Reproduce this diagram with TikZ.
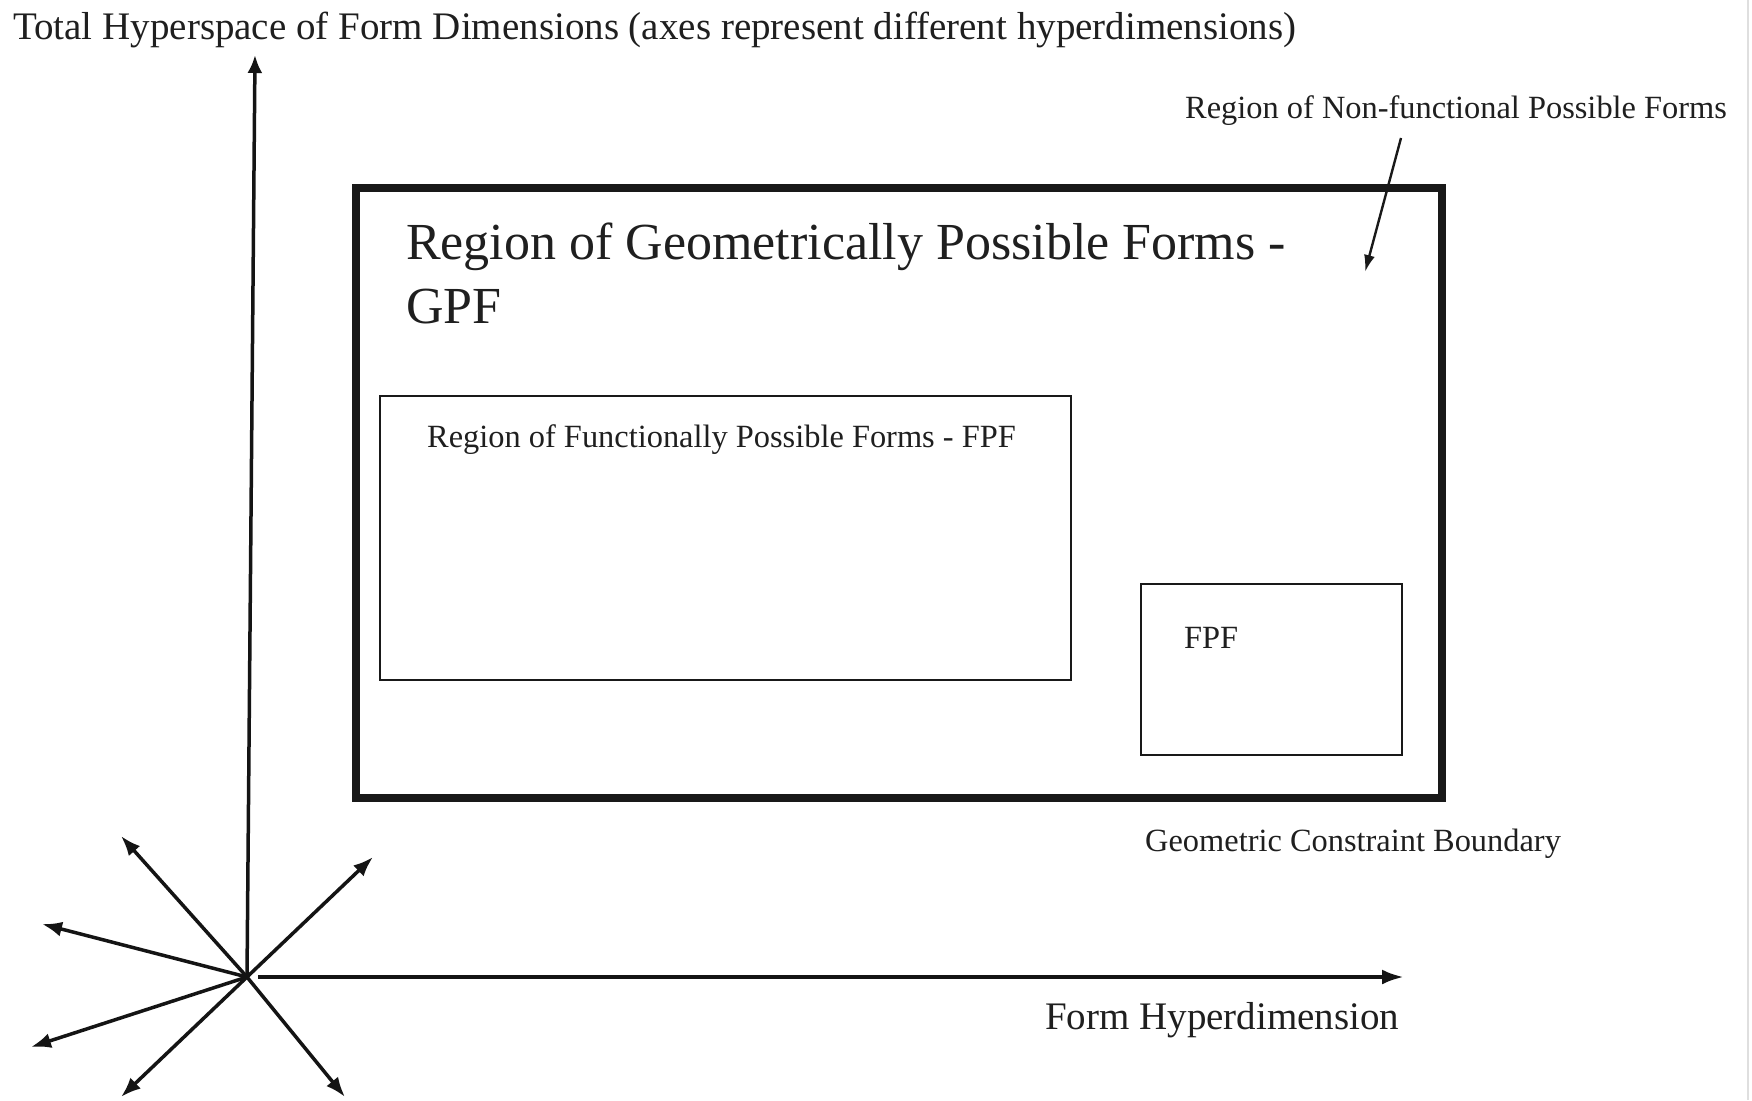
\documentclass[tikz,border=0pt]{standalone}
\usepackage{fontspec}
\setmainfont{Liberation Serif}
\usetikzlibrary{arrows.meta}
\tikzset{
  txt/.style={inner sep=0pt, anchor=base west, text=black!88},
  bigtxt/.style={txt, font=\fontsize{39}{46}\selectfont},
  headtxt/.style={txt, font=\fontsize{52}{65}\selectfont},
  smalltxt/.style={txt, font=\fontsize{32.4}{38}\selectfont},
  region/.style={draw=black!90, inner sep=0pt, outer sep=0pt, anchor=north west},
  axis/.style={line width=3.5pt, draw=black!92, -{Latex[length=20pt,width=15pt]}},
  pointer/.style={line width=2.4pt, draw=black!90, -{Latex[length=17pt,width=11pt]}}
}
\begin{document}
\begin{tikzpicture}[x=1pt,y=-1pt]
\useasboundingbox (0,0) rectangle (1752,1100);
\fill[white] (0,0) rectangle (1752,1100);
\draw[gray!25, line width=2pt] (1748,0) -- (1748,1100);

% title
\node[bigtxt] (title) at (13,39) {Total Hyperspace of Form Dimensions (axes represent different hyperdimensions)};

% regions
\node[region, line width=8pt, minimum width=1086pt, minimum height=610pt] (gpf) at (356,188) {};
\node[region, line width=2.6pt, minimum width=691pt, minimum height=284pt] (fpf1) at (380,396) {};
\node[region, line width=2.6pt, minimum width=261pt, minimum height=171pt] (fpf2) at (1141,584) {};

\node[headtxt] (gpft1) at (406,259) {Region of Geometrically Possible Forms -};
\node[headtxt] (gpft2) at (406,323) {GPF};
\node[smalltxt] (fpft1) at (427,447) {Region of Functionally Possible Forms - FPF};
\node[smalltxt] (fpft2) at (1184,648) {FPF};

\node[smalltxt] (nonf) at (1185,118) {Region of Non-functional Possible Forms};
\coordinate (nfs) at (1401,138);
\coordinate (nfe) at (1365,272);
\draw[pointer] (nfs) -- (nfe);

\node[smalltxt] (gcb) at (1145,851) {Geometric Constraint Boundary};
\node[bigtxt] (fh) at (1045,1029) {Form Hyperdimension};

% axes
\coordinate (o) at (247,977);
\coordinate (ytop) at (255,55);
\coordinate (xs) at (258,977);
\coordinate (xend) at (1404,977);
\draw[axis, -{Latex[length=18pt,width=15pt]}] (o) -- (ytop);
\draw[axis, line width=4pt, -{Latex[length=22pt,width=15pt]}] (xs) -- (xend);
\coordinate (r1) at (121,836);
\coordinate (r2) at (42,924);
\coordinate (r3) at (31,1047);
\coordinate (r4) at (121,1097);
\coordinate (r5) at (345,1097);
\coordinate (r6) at (373,857);
\foreach \r in {r1,r2,r3,r4,r5,r6} \draw[axis] (o) -- (\r);
\end{tikzpicture}
\end{document}
